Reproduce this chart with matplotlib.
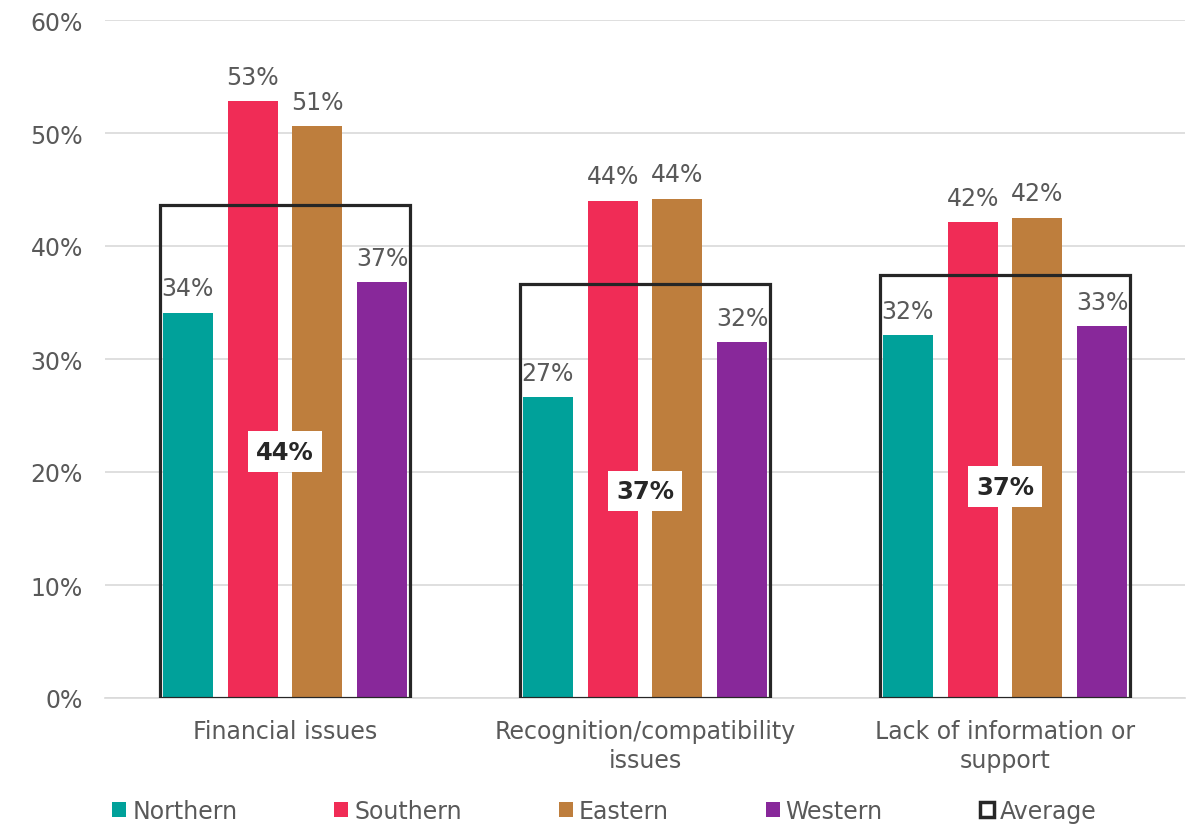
import numpy as np
import matplotlib.pyplot as plt
from matplotlib.patches import Patch, Rectangle

# Datos
categories = ['Financial issues', 'Recognition/compatibility\nissues', 'Lack of information or\nsupport']
regions = ['Northern', 'Southern', 'Eastern', 'Western']
northern = [34.1, 26.6, 32.1]
southern = [52.8, 44.0, 42.1]
eastern = [50.6, 44.2, 42.5]
western = [36.8, 31.5, 32.9]
average = [43.6, 36.6, 37.4]

colors = ['#00A19A', '#F02C56', '#BE7E3D', '#88289A']
text_color = '#595959'
box_color = '#262626'

plt.rcParams['font.family'] = ['DejaVu Sans']

fig = plt.figure(figsize=(11.92, 8.28), dpi=100)
ax = fig.add_axes([105 / 1192, 129 / 828, 1080 / 1192, 678 / 828])

x = np.arange(len(categories))
width = 0.139
step = 0.18
series = [northern, southern, eastern, western]

for i, (vals, col, name) in enumerate(zip(series, colors, regions)):
    pos = x + (i - 1.5) * step
    bars = ax.bar(pos, vals, width, color=col, label=name, zorder=2)
    for b, v in zip(bars, vals):
        ax.annotate(f'{v:.0f}%', xy=(b.get_x() + b.get_width() / 2, v),
                    xytext=(0, 9), textcoords='offset points',
                    ha='center', va='bottom', fontsize=17, color=text_color, zorder=4)

# Cajas de la media
box_w = 0.694
for xi, avg in zip(x, average):
    ax.add_patch(Rectangle((xi - box_w / 2, 0), box_w, avg, fill=False,
                           edgecolor=box_color, linewidth=2.3, zorder=5))
    ax.text(xi, avg / 2, f'{avg:.0f}%', ha='center', va='center', fontsize=17.5,
            fontweight='bold', color=box_color, zorder=6,
            bbox=dict(facecolor='white', edgecolor='none', pad=6))

ax.set_xlim(-0.5, 2.5)
ax.set_ylim(0, 60)
ax.set_yticks(range(0, 61, 10))
ax.set_yticklabels([f'{t}%' for t in range(0, 61, 10)])
ax.set_xticks(x)
ax.set_xticklabels(categories, linespacing=1.25)
ax.tick_params(axis='both', length=0, colors=text_color, labelsize=17)
ax.tick_params(axis='x', pad=15)
ax.tick_params(axis='y', pad=16)
ax.grid(axis='y', color='#D9D9D9', linewidth=1.2, zorder=0)
ax.set_axisbelow(True)
for s in ['top', 'right', 'left']:
    ax.spines[s].set_visible(False)
ax.spines['bottom'].set_color('#D9D9D9')
ax.spines['bottom'].set_linewidth(1.2)

handles = [Patch(facecolor=c, edgecolor='none') for c in colors]
handles.append(Patch(facecolor='white', edgecolor=box_color, linewidth=2.5))
labels = regions + ['Average']
leg = fig.legend(handles, labels, loc='center', bbox_to_anchor=(0.507, 0.019), ncol=5,
                 frameon=False, fontsize=17, handlelength=0.6, handleheight=0.6,
                 handletextpad=0.25, columnspacing=4.1, borderpad=0)
for t in leg.get_texts():
    t.set_color(text_color)

fig.savefig('out.png', dpi=100)
